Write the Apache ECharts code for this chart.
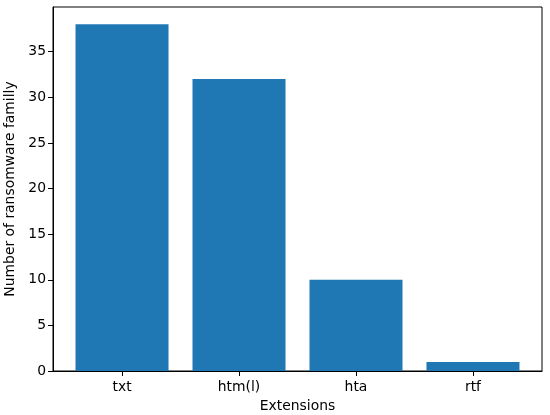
<!DOCTYPE html>
<html>
<head>
<meta charset="utf-8">
<script src="https://cdn.jsdelivr.net/npm/echarts@6/dist/echarts.min.js"></script>
<style>
  html, body { margin: 0; padding: 0; background: #fff; }
  #chart { width: 550px; height: 415px; }
</style>
</head>
<body>
<div id="chart"></div>
<script>
const categories = ['txt', 'htm(l)', 'hta', 'rtf']
const counts = [38, 32, 10, 1]
const yTicks = [0, 5, 10, 15, 20, 25, 30, 35]

const FONT = 'DejaVu Sans'
const SIZE = 13.9
const BLUE = '#1f77b4'

const chart = echarts.init(document.getElementById('chart'))

// matplotlib-like margins: bars of width 0.8, 5% padding each side
const xMin = -0.4 - 0.19
const xMax = categories.length - 1 + 0.4 + 0.19

chart.setOption({
  animation: false,
  grid: {
    left: 53,
    right: 8,
    top: 7,
    bottom: 44,
    outerBoundsMode: 'none',
    containLabel: false,
    show: true,
    borderColor: '#000',
    borderWidth: 1
  },
  xAxis: {
    type: 'value',
    min: xMin,
    max: xMax,
    name: 'Extensions',
    nameLocation: 'middle',
    nameGap: 28,
    nameTextStyle: { fontFamily: FONT, fontSize: SIZE, color: '#000' },
    axisLine: { show: true, onZero: false, lineStyle: { color: '#000', width: 1 } },
    axisTick: {
      show: true,
      length: 5,
      lineStyle: { color: '#000', width: 1 },
      customValues: categories.map((c, i) => i)
    },
    axisLabel: {
      fontFamily: FONT,
      fontSize: SIZE,
      color: '#000',
      margin: 9,
      customValues: categories.map((c, i) => i),
      formatter: v => categories[Math.round(v)] || ''
    },
    splitLine: { show: false }
  },
  yAxis: {
    type: 'value',
    min: 0,
    max: 39.9,
    name: 'Number of ransomware familly',
    nameLocation: 'middle',
    nameGap: 30,
    nameTextStyle: { fontFamily: FONT, fontSize: SIZE, color: '#000' },
    axisLine: { show: true, onZero: false, lineStyle: { color: '#000', width: 1 } },
    axisTick: {
      show: true,
      length: 5,
      lineStyle: { color: '#000', width: 1 },
      customValues: yTicks
    },
    axisLabel: {
      fontFamily: FONT,
      fontSize: SIZE,
      color: '#000',
      margin: 7,
      customValues: yTicks
    },
    splitLine: { show: false }
  },
  series: [
    {
      type: 'bar',
      data: counts.map((v, i) => [i, v]),
      barWidth: 93,
      itemStyle: { color: BLUE }
    }
  ]
})
</script>
</body>
</html>
